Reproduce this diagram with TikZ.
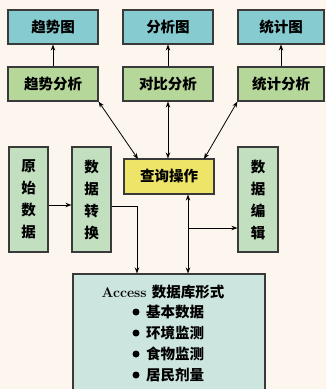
\documentclass[tikz,border=0pt]{standalone}
\usepackage{fontspec}
\newfontfamily\cjk{Noto Sans CJK SC}
\usetikzlibrary{arrows.meta}
\definecolor{bgc}{HTML}{FDF6EE}
\definecolor{teal}{HTML}{86CBD0}
\definecolor{grn}{HTML}{B6D79A}
\definecolor{lgrn}{HTML}{C2DFC0}
\definecolor{yel}{HTML}{EEE468}
\definecolor{acc}{HTML}{CDE5DF}
\definecolor{edge}{HTML}{3A3A3A}
\tikzset{
  box/.style={draw=edge, line width=1.1pt, inner sep=0pt, align=center,
    font=\cjk\bfseries\fontsize{14.5}{22}\selectfont},
  topbox/.style={box, fill=teal, minimum width=90pt, minimum height=34pt},
  anbox/.style={box, fill=grn, minimum width=90pt, minimum height=34pt},
  vbox/.style={box, fill=lgrn, minimum width=39pt, minimum height=105pt},
  arr/.style={-{Stealth[length=6pt,width=4.5pt]}, line width=0.8pt, draw=black},
  darr/.style={{Stealth[length=6pt,width=4.5pt]}-{Stealth[length=6pt,width=4.5pt]}, line width=0.8pt, draw=black},
  txt/.style={inner sep=0pt, font=\cjk\bfseries\fontsize{14.5}{18}\selectfont},
  dot/.style={circle, fill=black, inner sep=0pt, minimum size=7pt}
}
\begin{document}
\begin{tikzpicture}[x=1pt,y=-1pt]
\fill[bgc] (0,0) rectangle (326,389);
\useasboundingbox (0,0) rectangle (326,389);
% top row
\node[topbox] (t1) at (53,27) {趋势图};
\node[topbox] (t2) at (168,27) {分析图};
\node[topbox, minimum width=86pt] (t3) at (281,27) {统计图};
% analysis row
\node[anbox] (a1) at (53,84) {趋势分析};
\node[anbox] (a2) at (168,84) {对比分析};
\node[anbox, minimum width=86pt] (a3) at (281,84) {统计分析};
% vertical boxes
\node[vbox] (ys) at (28.5,199.5) {原\\始\\数\\据};
\node[vbox] (zh) at (91.5,199.5) {数\\据\\转\\换};
\node[vbox, minimum width=40pt] (bj) at (258,199.5) {数\\据\\编\\辑};
% query
\node[box, fill=yel, minimum width=90pt, minimum height=35pt] (cx) at (169,176.5) {查询操作};
% access
\node[draw=edge, line width=1.1pt, fill=acc, minimum width=192pt, minimum height=121pt, inner sep=0pt] (ac) at (169,334.5) {};
\node[inner sep=0pt, anchor=base] (ah) at (163,297) {\fontsize{14}{18}\selectfont\bfseries Access {\cjk\fontsize{14.5}{18}\selectfont 数据库形式}};
\node[dot] (b1) at (136,312) {};
\node[dot] (b2) at (136,333) {};
\node[dot] (b3) at (136,354) {};
\node[dot] (b4) at (136,375) {};
\node[txt, anchor=base west] (l1) at (146,317) {基本数据};
\node[txt, anchor=base west] (l2) at (146,338) {环境监测};
\node[txt, anchor=base west] (l3) at (146,359) {食物监测};
\node[txt, anchor=base west] (l4) at (146,380) {居民剂量};
% helper coordinates
\coordinate (r205) at (0,205);
\coordinate (r206) at (0,206);
\coordinate (r228) at (0,228);
\coordinate (c137) at (137,0);
\coordinate (c188) at (188,0);
\coordinate (q1) at (138,159);
\coordinate (q3) at (204,159);
\coordinate (j) at (188,228);
% arrows analysis -> charts
\draw[arr] (a1) -- (t1);
\draw[arr] (a2) -- (t2);
\draw[arr] (a3) -- (t3);
% query <-> analysis
\draw[darr] (a1.south east) -- (q1);
\draw[darr] (a2.south) -- (a2.south |- cx.north);
\draw[darr] (a3.south west) -- (q3);
% raw -> convert
\draw[arr] (ys.east |- r205) -- (zh.west |- r205);
% convert -> access
\draw[arr] (zh.east |- r206) -| (ac.north -| c137);
% query <-> access
\draw[darr] (cx.south -| c188) -- (ac.north -| c188);
\draw[arr] (j) -- (bj.west |- r228);
\end{tikzpicture}
\end{document}
